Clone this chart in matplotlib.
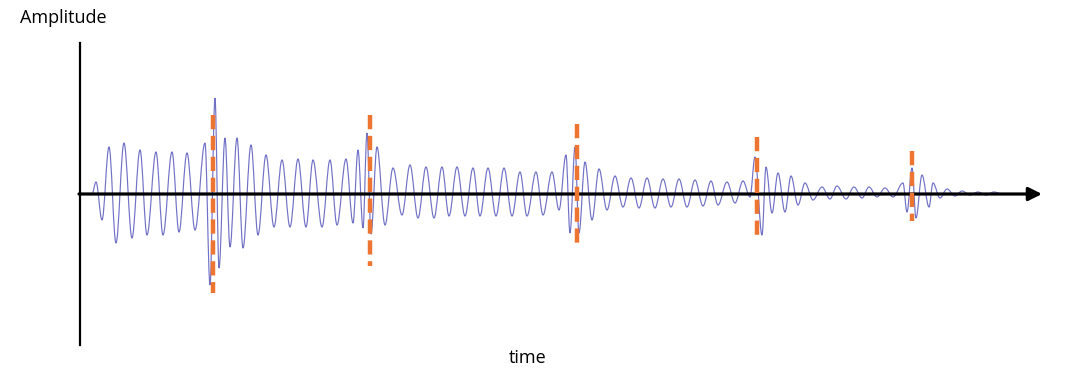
import matplotlib.pyplot as plt
from matplotlib.path import Path
from matplotlib.patches import PathPatch

# * Waveform: peaks and troughs (time, amplitude)
wave_t = [92, 96, 102, 109, 116, 124, 132, 140, 147, 156, 163, 172, 179, 187, 195,
          205, 210, 215, 219, 225, 230, 237, 243, 251, 258, 266, 274, 282, 290, 298,
          306, 313, 322, 330, 337, 346, 353, 358, 363, 367, 371, 377, 385, 393, 402,
          410, 418, 426, 434, 442, 449, 457, 465, 473, 480, 488, 496, 504, 512, 520,
          527, 536, 543, 552, 559, 566, 570, 575, 579, 585, 592, 599, 607, 615, 623,
          631, 639, 647, 655, 663, 671, 679, 687, 695, 703, 711, 718, 727, 735, 743,
          750, 755, 762, 766, 772, 778, 785, 791, 798, 805, 813, 822, 830, 837, 846,
          854, 862, 869, 877, 885, 893, 903, 907, 912, 916, 922, 929, 933, 940, 947,
          955, 962, 970, 978, 986, 994, 1002, 1010]
wave_amp = [0, 12, -26, 47, -49, 51, -44, 44, -41, 42, -41, 42, -38, 41, -36,
            51, -91, 96, -74, 56, -53, 56, -54, 49, -41, 39, -33, 34, -33, 35,
            -33, 34, -33, 34, -31, 35, -29, 44, -34, 61, -40, 47, -31, 26, -21,
            29, -24, 27, -24, 27, -22, 27, -22, 26, -22, 26, -22, 26, -22, 22,
            -22, 22, -21, 22, -16, 39, -39, 47, -39, 32, -26, 25, -16, 18, -13,
            16, -14, 16, -14, 15, -13, 15, -13, 14, -12, 13, -11, 12, -9, 13,
            -3, 37, -41, 27, -19, 21, -18, 18, -11, 11, -6, 7, -5, 8, -5,
            7, -4, 7, -3, 6, -3, 11, -18, 26, -24, 19, -13, 11, -4, 5,
            -2, 3, -1, 2, -1, 2, 0, 0]

# * Event markers (orange dashed lines)
event_t = [213, 370, 577, 757, 912]
event_top = [79, 79, 70, 57, 43]
event_bottom = [-99, -72, -54, -41, -27]

fig = plt.figure(figsize=(10.91, 3.90), dpi=100)
ax = fig.add_axes([0, 0, 1, 1])
ax.set_xlim(0, 1091)
ax.set_ylim(-196, 194)
ax.axis('off')

# waveform: bezier segments with flat tangents at each peak / trough
verts = [(wave_t[0], wave_amp[0])]
codes = [Path.MOVETO]
for i in range(1, len(wave_t)):
    t0, a0 = wave_t[i - 1], wave_amp[i - 1]
    t1, a1 = wave_t[i], wave_amp[i]
    k = 0.36 * (t1 - t0)
    verts += [(t0 + k, a0), (t1 - k, a1), (t1, a1)]
    codes += [Path.CURVE4] * 3
ax.add_patch(PathPatch(Path(verts, codes), fill=False, edgecolor='#6262c0',
                       lw=0.85, alpha=0.9, zorder=2))

# axes lines
ax.plot([80, 80], [151, -151], color='black', lw=1.6, zorder=3)
ax.annotate('', xy=(1042, 0), xytext=(79, 0),
            arrowprops=dict(arrowstyle='-|>', lw=2.3, color='black',
                            mutation_scale=20, shrinkA=0, shrinkB=0), zorder=3)

# dashed event lines
for t, top, bot in zip(event_t, event_top, event_bottom):
    ax.plot([t, t], [top, bot], color='#ee7431', lw=3.2, zorder=4,
            linestyle=(0, (3.2, 1.5)), dash_capstyle='butt')

ax.text(20, 176, 'Amplitude', fontsize=13, family='Open Sans', va='center', ha='left')
ax.text(528, -164, 'time', fontsize=13, family='Open Sans', va='center', ha='center')

plt.savefig('out.png', dpi=100)
